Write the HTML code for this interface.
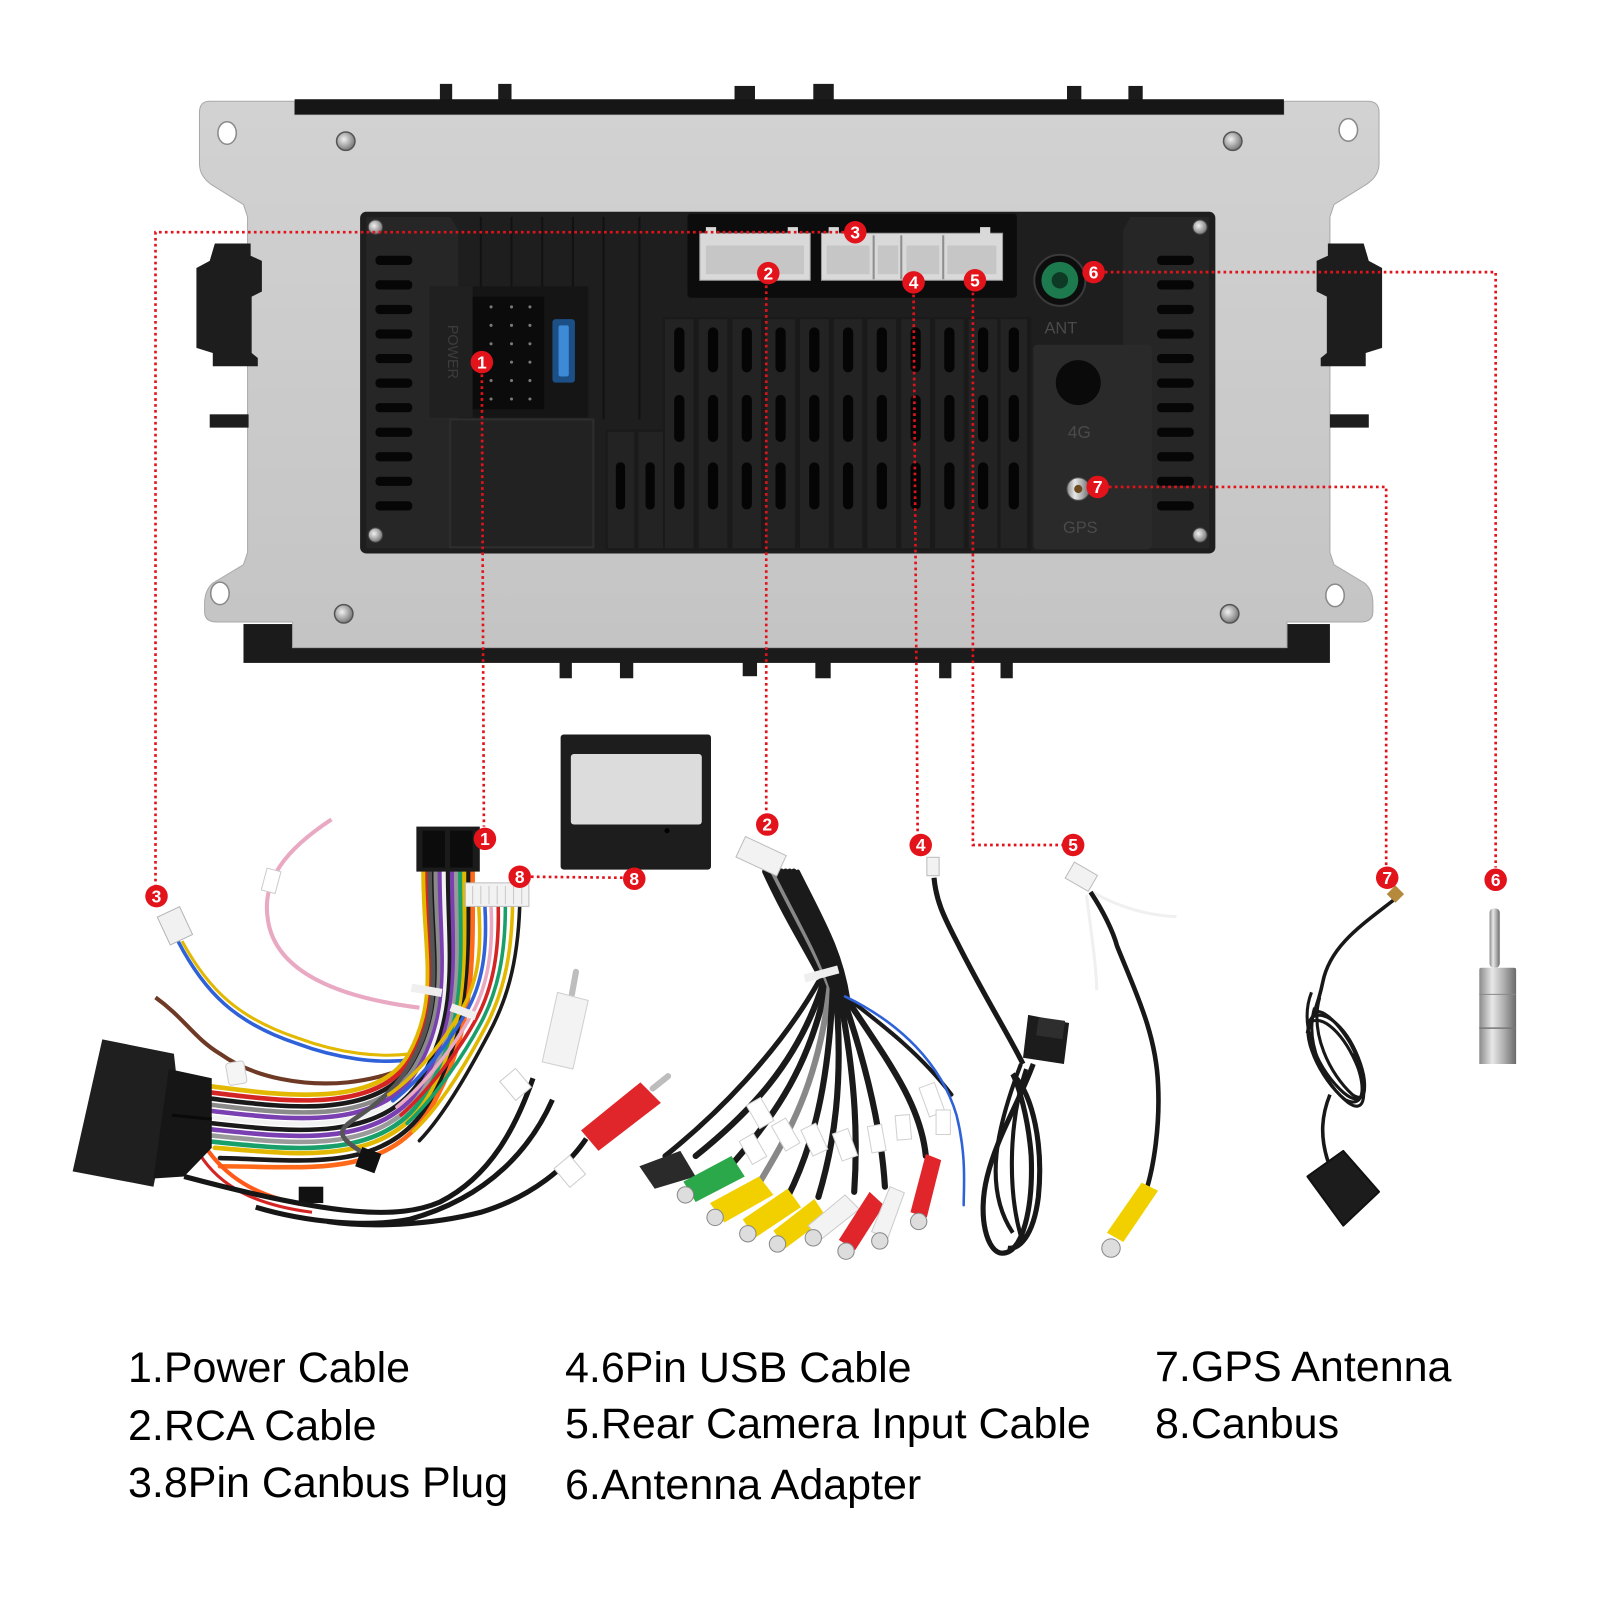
<!DOCTYPE html>
<html>
<head>
<meta charset="utf-8">
<style>
  html,body{margin:0;padding:0;background:#fff;}
  #wrap{position:relative;width:1600px;height:1600px;overflow:hidden;background:#fff;}
  svg{position:absolute;left:0;top:0;}
  .t{position:absolute;font-family:"Liberation Sans",Arial,sans-serif;font-size:43px;color:#000;white-space:nowrap;line-height:1;}
</style>
</head>
<body>
<div id="wrap">
<svg width="1600" height="1600" viewBox="0 0 1564 1564" xmlns="http://www.w3.org/2000/svg">
  <defs>
    <linearGradient id="plate" x1="0" y1="0" x2="0" y2="1">
      <stop offset="0" stop-color="#d2d2d2"/>
      <stop offset="1" stop-color="#c4c4c4"/>
    </linearGradient>
    <radialGradient id="screw" cx="0.4" cy="0.4" r="0.6">
      <stop offset="0" stop-color="#f0f0f0"/>
      <stop offset="1" stop-color="#7a7a7a"/>
    </radialGradient>
    <linearGradient id="silver" x1="0" y1="0" x2="1" y2="0">
      <stop offset="0" stop-color="#8a8a8a"/>
      <stop offset="0.35" stop-color="#e8e8e8"/>
      <stop offset="0.7" stop-color="#a8a8a8"/>
      <stop offset="1" stop-color="#6a6a6a"/>
    </linearGradient>
  </defs>

  <!-- ============ HEAD UNIT ============ -->
  <g fill="#1b1b1b">
    <rect x="430" y="82" width="12" height="20"/>
    <rect x="487" y="82" width="13" height="20"/>
    <rect x="718" y="84" width="20" height="18"/>
    <rect x="795" y="82" width="20" height="20"/>
    <rect x="1043" y="84" width="14" height="18"/>
    <rect x="1103" y="84" width="14" height="18"/>
    <rect x="547" y="643" width="12" height="20"/>
    <rect x="606" y="643" width="13" height="20"/>
    <rect x="726" y="643" width="14" height="18"/>
    <rect x="797" y="643" width="15" height="20"/>
    <rect x="918" y="643" width="12" height="20"/>
    <rect x="978" y="643" width="12" height="20"/>
    <rect x="238" y="610" width="1062" height="38"/>
  </g>

  <path fill="url(#plate)" stroke="#a9a9a9" stroke-width="1"
    d="M 205 99 L 288 99 L 288 112 L 1255 112 L 1255 99 L 1337 99 Q 1348 99 1348 110 L 1348 160 Q 1348 172 1336 180 L 1304 200 L 1300 212 L 1300 540 L 1304 552 L 1334 570 Q 1342 577 1342 590 L 1342 598 Q 1342 608 1330 608 L 1258 608 L 1258 633 L 286 633 L 286 608 L 212 608 Q 200 608 200 598 L 200 590 Q 200 577 208 570 L 238 552 L 242 540 L 242 212 L 238 200 L 206 180 Q 195 172 195 160 L 195 110 Q 195 99 205 99 Z"/>
  <rect x="288" y="97" width="967" height="15" fill="#161616"/>

  <g fill="#fff" stroke="#8a8a8a" stroke-width="1.5">
    <ellipse cx="222" cy="130" rx="9" ry="11"/>
    <ellipse cx="1318" cy="127" rx="9" ry="11"/>
    <ellipse cx="215" cy="580" rx="9" ry="11"/>
    <ellipse cx="1305" cy="582" rx="9" ry="11"/>
  </g>
  <g stroke="#555" stroke-width="1.5" fill="url(#screw)">
    <circle cx="338" cy="138" r="9"/>
    <circle cx="1205" cy="138" r="9"/>
    <circle cx="336" cy="600" r="9"/>
    <circle cx="1202" cy="600" r="9"/>
  </g>

  <g fill="#1d1d1d">
    <path d="M 210 238 L 245 238 L 245 250 L 256 255 L 256 285 L 246 290 L 246 345 L 252 350 L 252 358 L 208 358 L 208 345 L 192 340 L 192 262 L 205 255 Z"/>
    <rect x="205" y="405" width="38" height="13"/>
    <path d="M 1333 238 L 1298 238 L 1298 250 L 1287 255 L 1287 285 L 1297 290 L 1297 345 L 1291 350 L 1291 358 L 1335 358 L 1335 345 L 1351 340 L 1351 262 L 1338 255 Z"/>
    <rect x="1300" y="405" width="38" height="13"/>
  </g>

  <rect x="352" y="207" width="836" height="334" rx="6" fill="#1e1e1e"/>
  <path d="M 358 212 L 440 212 L 448 225 L 448 530 L 440 536 L 358 536 Z" fill="#262626"/>
  <path d="M 1182 212 L 1105 212 L 1098 225 L 1098 530 L 1105 536 L 1182 536 Z" fill="#262626"/>
  <g fill="#060606">
    <rect x="367" y="250" width="36" height="9" rx="4"/>
    <rect x="367" y="274" width="36" height="9" rx="4"/>
    <rect x="367" y="298" width="36" height="9" rx="4"/>
    <rect x="367" y="322" width="36" height="9" rx="4"/>
    <rect x="367" y="346" width="36" height="9" rx="4"/>
    <rect x="367" y="370" width="36" height="9" rx="4"/>
    <rect x="367" y="394" width="36" height="9" rx="4"/>
    <rect x="367" y="418" width="36" height="9" rx="4"/>
    <rect x="367" y="442" width="36" height="9" rx="4"/>
    <rect x="367" y="466" width="36" height="9" rx="4"/>
    <rect x="367" y="490" width="36" height="9" rx="4"/>
    <rect x="1131" y="250" width="36" height="9" rx="4"/>
    <rect x="1131" y="274" width="36" height="9" rx="4"/>
    <rect x="1131" y="298" width="36" height="9" rx="4"/>
    <rect x="1131" y="322" width="36" height="9" rx="4"/>
    <rect x="1131" y="346" width="36" height="9" rx="4"/>
    <rect x="1131" y="370" width="36" height="9" rx="4"/>
    <rect x="1131" y="394" width="36" height="9" rx="4"/>
    <rect x="1131" y="418" width="36" height="9" rx="4"/>
    <rect x="1131" y="442" width="36" height="9" rx="4"/>
    <rect x="1131" y="466" width="36" height="9" rx="4"/>
    <rect x="1131" y="490" width="36" height="9" rx="4"/>
  </g>
  <g fill="url(#screw)" stroke="#444" stroke-width="1">
    <circle cx="367" cy="222" r="7"/>
    <circle cx="1173" cy="222" r="7"/>
    <circle cx="367" cy="523" r="7"/>
    <circle cx="1173" cy="523" r="7"/>
  </g>

  <g stroke="#121212" stroke-width="2">
    <line x1="470" y1="212" x2="470" y2="280"/>
    <line x1="500" y1="212" x2="500" y2="280"/>
    <line x1="530" y1="212" x2="530" y2="280"/>
    <line x1="560" y1="212" x2="560" y2="280"/>
    <line x1="590" y1="212" x2="590" y2="410"/>
    <line x1="625" y1="212" x2="625" y2="410"/>
  </g>

  <rect x="440" y="410" width="140" height="125" fill="#222" stroke="#2e2e2e" stroke-width="2"/>

  <rect x="420" y="280" width="155" height="128" fill="#151515"/>
  <rect x="420" y="280" width="42" height="128" fill="#202020"/>
  <rect x="462" y="290" width="70" height="110" fill="#0b0b0b"/>
  <g fill="#7a7a7a">
    <circle cx="480" cy="300" r="1.5"/><circle cx="500" cy="300" r="1.5"/><circle cx="518" cy="300" r="1.5"/>
    <circle cx="480" cy="318" r="1.5"/><circle cx="500" cy="318" r="1.5"/><circle cx="518" cy="318" r="1.5"/>
    <circle cx="480" cy="336" r="1.5"/><circle cx="500" cy="336" r="1.5"/><circle cx="518" cy="336" r="1.5"/>
    <circle cx="480" cy="354" r="1.5"/><circle cx="500" cy="354" r="1.5"/><circle cx="518" cy="354" r="1.5"/>
    <circle cx="480" cy="372" r="1.5"/><circle cx="500" cy="372" r="1.5"/><circle cx="518" cy="372" r="1.5"/>
    <circle cx="480" cy="390" r="1.5"/><circle cx="500" cy="390" r="1.5"/><circle cx="518" cy="390" r="1.5"/>
  </g>
  <rect x="540" y="312" width="22" height="62" rx="3" fill="#1c4f86"/>
  <rect x="546" y="318" width="10" height="50" rx="2" fill="#3d8ad6"/>
  <text x="438" y="344" transform="rotate(90 438 344)" text-anchor="middle" font-family="Liberation Sans, sans-serif" font-size="14" fill="#3c3c3c">POWER</text>

  <rect x="672" y="209" width="322" height="82" rx="3" fill="#0c0c0c"/>
  <rect x="684" y="228" width="108" height="46" fill="#d9d9d9" stroke="#9a9a9a"/>
  <rect x="690" y="240" width="96" height="28" fill="#c6c6c6"/>
  <rect x="803" y="228" width="177" height="46" fill="#d9d9d9" stroke="#9a9a9a"/>
  <rect x="808" y="240" width="42" height="28" fill="#c6c6c6"/>
  <rect x="858" y="240" width="20" height="28" fill="#c6c6c6"/>
  <rect x="886" y="240" width="32" height="28" fill="#c6c6c6"/>
  <rect x="926" y="240" width="48" height="28" fill="#c6c6c6"/>
  <g stroke="#8e8e8e" stroke-width="2">
    <line x1="854" y1="230" x2="854" y2="273"/>
    <line x1="881" y1="230" x2="881" y2="273"/>
    <line x1="922" y1="230" x2="922" y2="273"/>
  </g>
  <g fill="#d9d9d9">
    <rect x="690" y="222" width="10" height="8"/>
    <rect x="770" y="222" width="10" height="8"/>
    <rect x="810" y="222" width="10" height="8"/>
    <rect x="958" y="222" width="10" height="8"/>
  </g>

  <circle cx="1036" cy="274" r="25" fill="#0d0d0d" stroke="#3a3a3a" stroke-width="2"/>
  <circle cx="1036" cy="274" r="18" fill="#1c7a4e"/>
  <circle cx="1036" cy="274" r="8" fill="#0e3a25"/>
  <text x="1037" y="326" text-anchor="middle" font-family="Liberation Sans, sans-serif" font-size="16" fill="#4a4a4a">ANT</text>

  <rect x="648" y="310" width="360" height="228" fill="#1a1a1a"/>
  <rect x="592" y="420" width="60" height="118" fill="#1a1a1a"/>
  <g fill="#232323">
    <rect x="650" y="312" width="28" height="224"/>
    <rect x="683" y="312" width="28" height="224"/>
    <rect x="716" y="312" width="28" height="224"/>
    <rect x="749" y="312" width="28" height="224"/>
    <rect x="782" y="312" width="28" height="224"/>
    <rect x="815" y="312" width="28" height="224"/>
    <rect x="848" y="312" width="28" height="224"/>
    <rect x="881" y="312" width="28" height="224"/>
    <rect x="914" y="312" width="28" height="224"/>
    <rect x="947" y="312" width="28" height="224"/>
    <rect x="978" y="312" width="26" height="224"/>
    <rect x="594" y="422" width="26" height="114"/>
    <rect x="624" y="422" width="24" height="114"/>
  </g>
  <g fill="#050505">
    <rect x="659" y="320" width="10" height="44" rx="5"/><rect x="659" y="386" width="10" height="46" rx="5"/><rect x="659" y="452" width="10" height="46" rx="5"/>
    <rect x="692" y="320" width="10" height="44" rx="5"/><rect x="692" y="386" width="10" height="46" rx="5"/><rect x="692" y="452" width="10" height="46" rx="5"/>
    <rect x="725" y="320" width="10" height="44" rx="5"/><rect x="725" y="386" width="10" height="46" rx="5"/><rect x="725" y="452" width="10" height="46" rx="5"/>
    <rect x="758" y="320" width="10" height="44" rx="5"/><rect x="758" y="386" width="10" height="46" rx="5"/><rect x="758" y="452" width="10" height="46" rx="5"/>
    <rect x="791" y="320" width="10" height="44" rx="5"/><rect x="791" y="386" width="10" height="46" rx="5"/><rect x="791" y="452" width="10" height="46" rx="5"/>
    <rect x="824" y="320" width="10" height="44" rx="5"/><rect x="824" y="386" width="10" height="46" rx="5"/><rect x="824" y="452" width="10" height="46" rx="5"/>
    <rect x="857" y="320" width="10" height="44" rx="5"/><rect x="857" y="386" width="10" height="46" rx="5"/><rect x="857" y="452" width="10" height="46" rx="5"/>
    <rect x="890" y="320" width="10" height="44" rx="5"/><rect x="890" y="386" width="10" height="46" rx="5"/><rect x="890" y="452" width="10" height="46" rx="5"/>
    <rect x="923" y="320" width="10" height="44" rx="5"/><rect x="923" y="386" width="10" height="46" rx="5"/><rect x="923" y="452" width="10" height="46" rx="5"/>
    <rect x="956" y="320" width="10" height="44" rx="5"/><rect x="956" y="386" width="10" height="46" rx="5"/><rect x="956" y="452" width="10" height="46" rx="5"/>
    <rect x="986" y="320" width="10" height="44" rx="5"/><rect x="986" y="386" width="10" height="46" rx="5"/><rect x="986" y="452" width="10" height="46" rx="5"/>
    <rect x="602" y="452" width="9" height="46" rx="4"/>
    <rect x="631" y="452" width="9" height="46" rx="4"/>
  </g>

  <rect x="1010" y="337" width="116" height="200" rx="4" fill="#2a2a2a"/>
  <circle cx="1054" cy="374" r="22" fill="#0a0a0a"/>
  <text x="1055" y="428" text-anchor="middle" font-family="Liberation Sans, sans-serif" font-size="17" fill="#4a4a4a">4G</text>
  <circle cx="1054" cy="478" r="11" fill="url(#silver)" stroke="#555"/>
  <circle cx="1054" cy="478" r="4" fill="#6d4a20"/>
  <text x="1056" y="521" text-anchor="middle" font-family="Liberation Sans, sans-serif" font-size="16" fill="#4a4a4a">GPS</text>

  <!-- ============ CANBUS BOX ============ -->
  <rect x="548" y="718" width="147" height="132" rx="3" fill="#1d1d1d"/>
  <rect x="558" y="737" width="128" height="69" rx="3" fill="#dcdcdc"/>
  <circle cx="652" cy="812" r="2.5" fill="#000"/>

  <!-- ============ POWER HARNESS ============ -->
  <path d="M 324 801 C 280 830 255 860 262 900 C 270 950 330 975 410 985" fill="none" stroke="#e9a9c2" stroke-width="4"/>
  <rect x="258" y="850" width="14" height="22" fill="#fff" stroke="#ccc" transform="rotate(15 265 861)"/>
  <path d="M 174 920 C 200 970 230 1000 290 1020 C 330 1035 370 1040 400 1036" fill="none" stroke="#2f62d8" stroke-width="3.5"/>
  <path d="M 178 920 C 204 968 234 996 292 1015 C 332 1030 372 1034 402 1030" fill="none" stroke="#e2b800" stroke-width="3"/>
  <rect x="159" y="890" width="24" height="30" fill="#f1f1f1" stroke="#b5b5b5" transform="rotate(-25 171 905)"/>
  <path d="M 152 975 C 180 995 190 1015 215 1030 C 250 1055 300 1062 340 1058 C 365 1055 380 1050 392 1046" fill="none" stroke="#6e3a26" stroke-width="4"/>
  <rect x="222" y="1038" width="18" height="22" rx="3" fill="#f5f5f5" stroke="#ccc" transform="rotate(-10 231 1049)"/>

  <g fill="none" stroke-width="4.5" stroke-linecap="round">
    <path stroke="#e2b800" d="M 414 852 C 414 930 430 975 400 1030 S 270 1070 207 1062"/>
    <path stroke="#d42424" d="M 418 852 C 418 930 434 978 402 1034 S 272 1076 207 1068"/>
    <path stroke="#1a1a1a" d="M 422 852 C 422 930 438 980 404 1038 S 274 1082 207 1074"/>
    <path stroke="#8a8a8a" d="M 426 852 C 426 930 441 982 406 1042 S 276 1088 207 1080"/>
    <path stroke="#7a3fb0" d="M 430 852 C 430 930 444 985 408 1046 S 278 1094 207 1086"/>
    <path stroke="#f2f2f2" d="M 434 852 C 434 930 447 988 410 1050 S 280 1100 207 1092"/>
    <path stroke="#1a1a1a" d="M 438 852 C 438 930 450 990 412 1054 S 282 1106 207 1098"/>
    <path stroke="#7a3fb0" d="M 442 852 C 442 930 453 992 414 1058 S 284 1112 207 1104"/>
    <path stroke="#9a9a9a" d="M 446 852 C 446 930 456 994 416 1062 S 286 1118 207 1110"/>
    <path stroke="#19a06a" d="M 450 852 C 450 930 459 996 418 1066 S 288 1124 207 1116"/>
    <path stroke="#e2b800" d="M 454 852 C 454 930 462 998 420 1070 S 290 1128 210 1122"/>
    <path stroke="#1a1a1a" d="M 458 852 C 458 930 464 1000 422 1074 S 300 1134 215 1132"/>
    <path stroke="#ff6a1a" d="M 462 852 C 462 930 466 1002 424 1078 S 300 1140 215 1140"/>
    <path stroke="#555" d="M 420 852 C 420 935 436 985 398 1045 S 300 1095 360 1130"/>
  </g>
  <g fill="none" stroke-width="3.5" stroke-linecap="round">
    <path stroke="#e2b800" d="M 468 886 C 470 920 470 950 455 980 C 440 1010 410 1050 380 1070"/>
    <path stroke="#2f62d8" d="M 474 886 C 476 920 474 955 458 985 C 442 1015 412 1055 384 1076"/>
    <path stroke="#e9a9c2" d="M 480 886 C 482 925 478 960 462 990 C 446 1020 416 1060 388 1082"/>
    <path stroke="#d42424" d="M 487 886 C 488 930 482 965 466 995 C 450 1025 420 1065 392 1090"/>
    <path stroke="#19a06a" d="M 494 886 C 494 935 486 970 470 1000 C 454 1030 426 1072 398 1098"/>
    <path stroke="#e2b800" d="M 501 886 C 500 940 490 975 474 1005 C 458 1035 432 1080 404 1106"/>
    <path stroke="#1a1a1a" d="M 508 886 C 506 945 494 980 478 1010 C 462 1040 436 1088 410 1115"/>
  </g>
  <path d="M 200 1120 C 220 1150 250 1170 300 1178" fill="none" stroke="#ff5a1a" stroke-width="4"/>
  <path d="M 195 1128 C 215 1160 250 1178 305 1185" fill="none" stroke="#d42424" stroke-width="3"/>
  <rect x="402" y="964" width="30" height="8" fill="#efefef" transform="rotate(10 417 968)"/>
  <rect x="440" y="985" width="26" height="8" fill="#efefef" transform="rotate(20 453 989)"/>
  <rect x="407" y="808" width="62" height="44" fill="#1b1b1b"/>
  <rect x="413" y="812" width="22" height="36" fill="#0c0c0c"/>
  <rect x="440" y="812" width="22" height="36" fill="#0c0c0c"/>
  <rect x="455" y="863" width="62" height="23" fill="#f2f2f2" stroke="#bdbdbd"/>
  <g stroke="#c8c8c8"><line x1="462" y1="866" x2="462" y2="884"/><line x1="470" y1="866" x2="470" y2="884"/><line x1="478" y1="866" x2="478" y2="884"/><line x1="486" y1="866" x2="486" y2="884"/><line x1="494" y1="866" x2="494" y2="884"/><line x1="502" y1="866" x2="502" y2="884"/><line x1="510" y1="866" x2="510" y2="884"/></g>
  <path d="M 100 1016 L 170 1030 L 172 1048 L 150 1160 L 71 1145 Z" fill="#1f1f1f"/>
  <path d="M 165 1045 L 207 1054 L 207 1122 L 180 1150 L 150 1152 Z" fill="#161616"/>
  <line x1="168" y1="1090" x2="207" y2="1094" stroke="#0a0a0a" stroke-width="3"/>
  <rect x="350" y="1124" width="20" height="20" fill="#111" transform="rotate(20 360 1134)"/>
  <rect x="292" y="1160" width="24" height="16" fill="#111"/>

  <!-- AUX L IN -->
  <path d="M 521 1054 C 505 1100 480 1150 430 1175 C 390 1192 330 1190 180 1150" fill="none" stroke="#161616" stroke-width="5"/>
  <path d="M 540 1075 C 520 1120 480 1170 400 1192 C 360 1200 300 1195 250 1180" fill="none" stroke="#161616" stroke-width="5"/>
  <line x1="563" y1="950" x2="559" y2="972" stroke="#bdbdbd" stroke-width="6" stroke-linecap="round"/>
  <path d="M 545 970 L 575 978 L 560 1045 L 530 1038 Z" fill="#f3f3f3" stroke="#cfcfcf"/>
  <rect x="492" y="1050" width="24" height="20" fill="#fff" stroke="#ccc" transform="rotate(50 504 1060)"/>
  <line x1="653" y1="1052" x2="638" y2="1064" stroke="#bdbdbd" stroke-width="6" stroke-linecap="round"/>
  <path d="M 626 1058 L 646 1078 L 585 1125 L 568 1105 Z" fill="#e0262a"/>
  <path d="M 573 1113 C 555 1140 520 1170 470 1185 C 420 1198 360 1200 320 1194" fill="none" stroke="#161616" stroke-width="5"/>
  <rect x="545" y="1135" width="24" height="20" fill="#fff" stroke="#ccc" transform="rotate(50 557 1145)"/>

  <!-- ============ RCA CABLE (2) ============ -->
  <g fill="none" stroke-linecap="round">
    <path d="M 748 852 C 770 900 790 930 805 960 C 780 1040 730 1090 680 1130" stroke="#1a1a1a" stroke-width="6"/>
    <path d="M 752 852 C 775 900 795 930 808 962 C 790 1050 750 1100 705 1150" stroke="#1a1a1a" stroke-width="6"/>
    <path d="M 756 852 C 780 900 798 930 811 964 C 800 1060 770 1110 740 1160" stroke="#888" stroke-width="6"/>
    <path d="M 760 852 C 784 900 802 930 814 966 C 810 1060 795 1120 770 1170" stroke="#1a1a1a" stroke-width="6"/>
    <path d="M 764 852 C 788 900 806 930 817 968 C 825 1060 815 1120 800 1170" stroke="#1a1a1a" stroke-width="6"/>
    <path d="M 768 852 C 792 900 810 930 820 970 C 838 1060 838 1120 835 1165" stroke="#1a1a1a" stroke-width="6"/>
    <path d="M 772 852 C 796 900 814 930 823 972 C 850 1050 862 1110 865 1160" stroke="#1a1a1a" stroke-width="6"/>
    <path d="M 776 852 C 800 900 818 930 826 974 C 870 1040 900 1080 905 1130" stroke="#1a1a1a" stroke-width="6"/>
    <path d="M 780 852 C 804 900 822 930 829 976 C 860 1000 900 1030 930 1070" stroke="#1a1a1a" stroke-width="4"/>
    <path d="M 800 960 C 760 1030 700 1090 650 1130" stroke="#1a1a1a" stroke-width="5"/>
    <path d="M 826 974 C 880 1000 920 1040 935 1090 C 945 1130 942 1160 942 1178" stroke="#2f62d8" stroke-width="2.5"/>
  </g>
  <rect x="786" y="948" width="34" height="8" fill="#efefef" transform="rotate(-15 803 952)"/>
  <rect x="722" y="826" width="44" height="22" fill="#f2f2f2" stroke="#bdbdbd" transform="rotate(25 744 837)"/>
  <g fill="#fff" stroke="#d0d0d0">
    <rect x="735" y="1075" width="16" height="26" transform="rotate(-30 743 1088)"/>
    <rect x="760" y="1095" width="16" height="28" transform="rotate(-30 768 1109)"/>
    <rect x="788" y="1100" width="16" height="28" transform="rotate(-25 796 1114)"/>
    <rect x="818" y="1105" width="16" height="28" transform="rotate(-20 826 1119)"/>
    <rect x="850" y="1100" width="14" height="26" transform="rotate(-10 857 1113)"/>
    <rect x="876" y="1090" width="14" height="24" transform="rotate(-5 883 1102)"/>
    <rect x="903" y="1060" width="16" height="30" transform="rotate(-20 911 1075)"/>
    <rect x="915" y="1085" width="14" height="24"/>
    <rect x="728" y="1110" width="16" height="26" transform="rotate(-30 736 1123)"/>
  </g>
  <g>
    <path d="M 665 1125 L 680 1150 L 640 1162 L 625 1140 Z" fill="#2a2a2a"/>
    <path d="M 715 1130 L 728 1150 L 680 1175 L 668 1155 Z" fill="#2aa84a"/>
    <circle cx="670" cy="1168" r="8" fill="#ddd" stroke="#888"/>
    <path d="M 742 1150 L 756 1168 L 708 1195 L 694 1176 Z" fill="#f2d000"/>
    <circle cx="699" cy="1190" r="8" fill="#ddd" stroke="#888"/>
    <path d="M 770 1162 L 783 1180 L 738 1210 L 726 1192 Z" fill="#f2d000"/>
    <circle cx="731" cy="1206" r="8" fill="#ddd" stroke="#888"/>
    <path d="M 796 1172 L 808 1190 L 768 1220 L 756 1203 Z" fill="#f2d000"/>
    <circle cx="760" cy="1216" r="8" fill="#ddd" stroke="#888"/>
    <path d="M 826 1168 L 840 1182 L 802 1212 L 790 1198 Z" fill="#f3f3f3" stroke="#ccc"/>
    <circle cx="795" cy="1210" r="8" fill="#ddd" stroke="#888"/>
    <path d="M 850 1165 L 864 1178 L 836 1222 L 820 1212 Z" fill="#e0262a"/>
    <circle cx="827" cy="1223" r="8" fill="#ddd" stroke="#888"/>
    <path d="M 870 1160 L 884 1166 L 868 1210 L 852 1204 Z" fill="#f3f3f3" stroke="#ccc"/>
    <circle cx="860" cy="1213" r="8" fill="#ddd" stroke="#888"/>
    <path d="M 905 1128 L 920 1134 L 906 1190 L 890 1185 Z" fill="#e0262a"/>
    <circle cx="898" cy="1194" r="8" fill="#ddd" stroke="#888"/>
  </g>

  <!-- ============ USB CABLE (4) ============ -->
  <path d="M 913 858 C 915 880 922 895 935 920 C 960 970 985 1010 1000 1040" fill="none" stroke="#181818" stroke-width="5"/>
  <path d="M 1010 1040 C 995 1080 975 1110 965 1150 C 955 1190 965 1225 980 1225 C 1000 1225 1010 1180 1008 1130 C 1005 1090 995 1060 990 1050 C 1010 1070 1020 1120 1015 1170 C 1010 1210 995 1222 985 1220" fill="none" stroke="#181818" stroke-width="5"/>
  <path d="M 998 1040 C 975 1100 960 1160 990 1205" fill="none" stroke="#181818" stroke-width="4"/>
  <path d="M 1003 1045 C 985 1100 985 1170 1000 1215" fill="none" stroke="#181818" stroke-width="4"/>
  <path d="M 1005 992 L 1045 1000 L 1040 1040 L 1000 1034 Z" fill="#1c1c1c"/>
  <rect x="1014" y="996" width="26" height="18" fill="#2e2e2e" transform="rotate(8 1027 1005)"/>
  <rect x="906" y="838" width="12" height="18" fill="#f2f2f2" stroke="#bbb"/>

  <!-- ============ CAMERA CABLE (5) ============ -->
  <path d="M 1062 875 C 1068 920 1072 950 1072 968" fill="none" stroke="#f0f0f0" stroke-width="3" />
  <path d="M 1068 872 C 1090 885 1120 895 1150 896" fill="none" stroke="#f0f0f0" stroke-width="3"/>
  <path d="M 1066 872 C 1078 890 1088 910 1092 925 C 1110 970 1130 1010 1132 1060 C 1134 1100 1128 1140 1120 1165" fill="none" stroke="#181818" stroke-width="4.5"/>
  <rect x="1044" y="848" width="26" height="18" fill="#f2f2f2" stroke="#bbb" transform="rotate(30 1057 857)"/>
  <path d="M 1116 1156 L 1132 1164 L 1098 1214 L 1082 1205 Z" fill="#f2d000"/>
  <circle cx="1086" cy="1220" r="9" fill="#ddd" stroke="#888"/>

  <!-- ============ GPS ANTENNA (7) ============ -->
  <path d="M 1362 880 C 1330 905 1300 925 1293 960 C 1288 985 1280 1000 1278 1010" fill="none" stroke="#181818" stroke-width="3.5"/>
  <g fill="none" stroke="#181818" stroke-width="3">
    <path d="M 1282 970 C 1270 1000 1285 1040 1310 1065 C 1330 1085 1340 1070 1330 1040 C 1318 1005 1295 985 1282 995 C 1270 1010 1290 1055 1315 1075 C 1335 1085 1336 1060 1322 1030"/>
    <path d="M 1285 985 C 1275 1020 1295 1060 1318 1078 C 1332 1088 1338 1075 1328 1045 C 1314 1010 1292 990 1280 1000"/>
    <path d="M 1290 975 C 1280 1010 1300 1050 1322 1070 C 1340 1082 1336 1050 1320 1020 C 1305 995 1290 985 1284 990"/>
  </g>
  <path d="M 1300 1070 C 1292 1090 1290 1110 1298 1135" fill="none" stroke="#181818" stroke-width="3.5"/>
  <rect x="1358" y="868" width="12" height="12" fill="#b58a3c" transform="rotate(45 1364 874)"/>
  <path d="M 1278 1150 L 1313 1125 L 1348 1165 L 1313 1198 Z" fill="#1c1c1c" stroke="#111" stroke-width="2" stroke-linejoin="round"/>

  <!-- ============ ANTENNA ADAPTER (6) ============ -->
  <rect x="1456" y="888" width="10" height="58" rx="4" fill="url(#silver)"/>
  <path d="M 1446 952 L 1482 952 L 1482 1040 L 1446 1040 Z" fill="url(#silver)"/>
  <rect x="1446" y="946" width="36" height="8" rx="2" fill="url(#silver)"/>
  <line x1="1446" y1="1005" x2="1482" y2="1005" stroke="#777" stroke-width="1.5"/>
  <line x1="1446" y1="972" x2="1482" y2="972" stroke="#888" stroke-width="1"/>

  <!-- ============ RED DOTTED LEADERS ============ -->
  <g fill="none" stroke="#e3131b" stroke-width="2.6" stroke-dasharray="2.6 3.2">
    <polyline points="825,227 152,227 152,866"/>
    <line x1="471" y1="366" x2="473" y2="808"/>
    <line x1="749" y1="279" x2="749" y2="796"/>
    <line x1="893" y1="288" x2="897" y2="814"/>
    <polyline points="951,286 951,826 1038,826"/>
    <polyline points="1080,266 1462,266 1462,848"/>
    <polyline points="1084,476 1355,476 1355,846"/>
    <line x1="519" y1="857" x2="609" y2="858"/>
  </g>

  <g font-family="Liberation Sans, sans-serif" font-weight="bold" font-size="17" fill="#fff" text-anchor="middle">
    <circle cx="836" cy="227" r="11" fill="#e3131b"/><text x="836" y="233">3</text>
    <circle cx="751" cy="267" r="11" fill="#e3131b"/><text x="751" y="273">2</text>
    <circle cx="893" cy="276" r="11" fill="#e3131b"/><text x="893" y="282">4</text>
    <circle cx="953" cy="274" r="11" fill="#e3131b"/><text x="953" y="280">5</text>
    <circle cx="1069" cy="266" r="11" fill="#e3131b"/><text x="1069" y="272">6</text>
    <circle cx="471" cy="354" r="11" fill="#e3131b"/><text x="471" y="360">1</text>
    <circle cx="1073" cy="476" r="11" fill="#e3131b"/><text x="1073" y="482">7</text>
    <circle cx="153" cy="876" r="11" fill="#e3131b"/><text x="153" y="882">3</text>
    <circle cx="474" cy="820" r="11" fill="#e3131b"/><text x="474" y="826">1</text>
    <circle cx="508" cy="857" r="11" fill="#e3131b"/><text x="508" y="863">8</text>
    <circle cx="620" cy="859" r="11" fill="#e3131b"/><text x="620" y="865">8</text>
    <circle cx="750" cy="806" r="11" fill="#e3131b"/><text x="750" y="812">2</text>
    <circle cx="900" cy="826" r="11" fill="#e3131b"/><text x="900" y="832">4</text>
    <circle cx="1049" cy="826" r="11" fill="#e3131b"/><text x="1049" y="832">5</text>
    <circle cx="1356" cy="858" r="11" fill="#e3131b"/><text x="1356" y="864">7</text>
    <circle cx="1462" cy="860" r="11" fill="#e3131b"/><text x="1462" y="866">6</text>
  </g>
</svg>

<div class="t" style="left:128px;top:1347px;">1.Power Cable</div>
<div class="t" style="left:128px;top:1405px;">2.RCA Cable</div>
<div class="t" style="left:128px;top:1462px;">3.8Pin Canbus Plug</div>
<div class="t" style="left:565px;top:1347px;">4.6Pin USB Cable</div>
<div class="t" style="left:565px;top:1403px;">5.Rear Camera Input Cable</div>
<div class="t" style="left:565px;top:1464px;">6.Antenna Adapter</div>
<div class="t" style="left:1155px;top:1346px;">7.GPS Antenna</div>
<div class="t" style="left:1155px;top:1403px;">8.Canbus</div>
</div>
</body>
</html>
